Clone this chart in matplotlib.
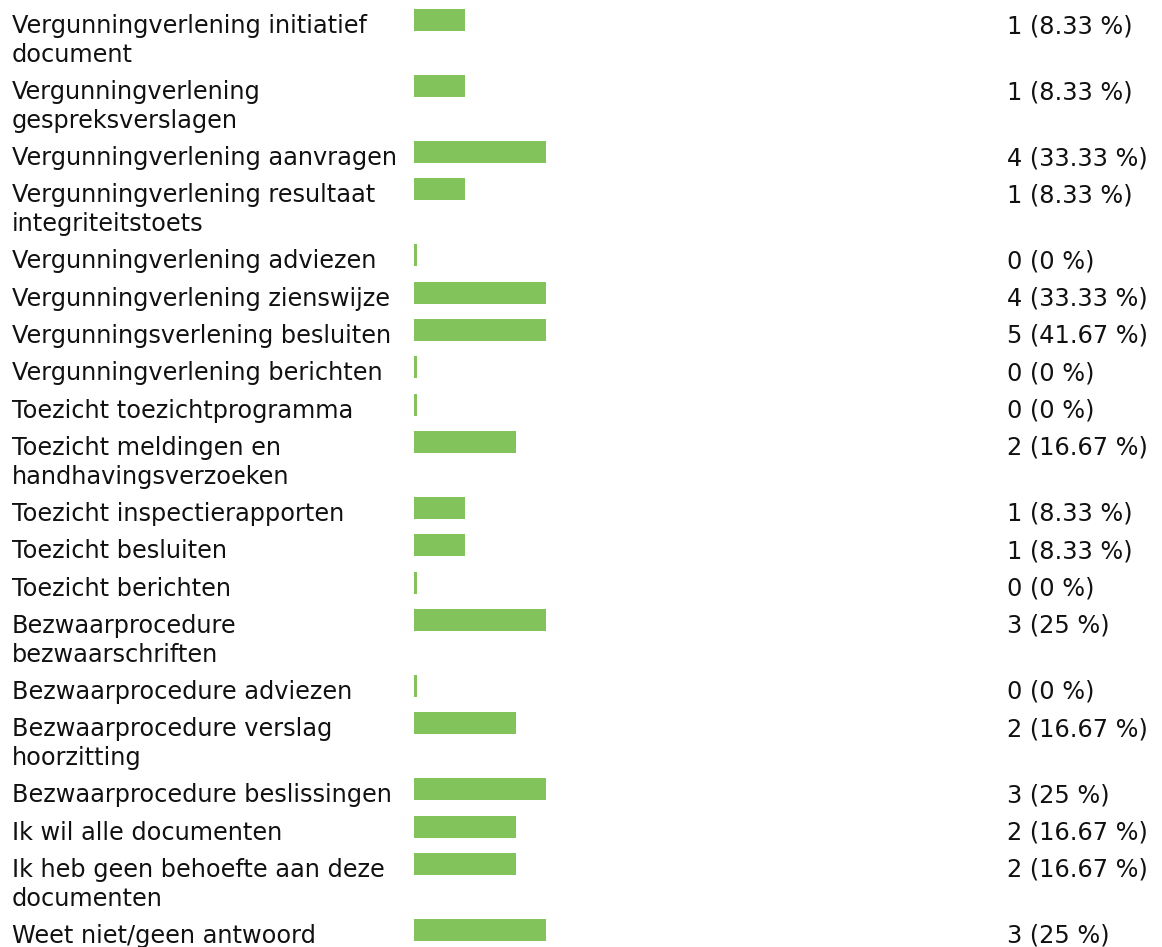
import matplotlib
matplotlib.use("Agg")
import matplotlib.pyplot as plt
from matplotlib import transforms

# ---- data ----
labels = [
    "Vergunningverlening initiatief\ndocument",
    "Vergunningverlening\ngespreksverslagen",
    "Vergunningverlening aanvragen",
    "Vergunningverlening resultaat\nintegriteitstoets",
    "Vergunningverlening adviezen",
    "Vergunningverlening zienswijze",
    "Vergunningsverlening besluiten",
    "Vergunningverlening berichten",
    "Toezicht toezichtprogramma",
    "Toezicht meldingen en\nhandhavingsverzoeken",
    "Toezicht inspectierapporten",
    "Toezicht besluiten",
    "Toezicht berichten",
    "Bezwaarprocedure\nbezwaarschriften",
    "Bezwaarprocedure adviezen",
    "Bezwaarprocedure verslag\nhoorzitting",
    "Bezwaarprocedure beslissingen",
    "Ik wil alle documenten",
    "Ik heb geen behoefte aan deze\ndocumenten",
    "Weet niet/geen antwoord",
]
counts = [1, 1, 4, 1, 0, 4, 5, 0, 0, 2, 1, 1, 0, 3, 0, 2, 3, 2, 2, 3]
percents = ["8.33", "8.33", "33.33", "8.33", "0", "33.33", "41.67", "0", "0",
            "16.67", "8.33", "8.33", "0", "25", "0", "16.67", "25", "16.67",
            "16.67", "25"]

# ---- layout (pixels) ----
W, H = 1162, 947
DPI = 100
FONT = 17.3
TXT = "#111111"
GREEN = "#82c35c"
BAR_X0, BAR_W = 414, 132
FIRST_TOP = 9
ROW1 = 37.33
LINE = 28.67
BAR_H = 22
BASE_OFF = 24
XMAX = 2.6
MIN_W = XMAX * 3 / BAR_W

fig = plt.figure(figsize=(W / DPI, H / DPI), dpi=DPI)
fig.patch.set_facecolor("white")
ax = fig.add_axes([BAR_X0 / W, 0, BAR_W / W, 1])
ax.set_xlim(0, XMAX)
ax.set_ylim(H, 0)
ax.axis("off")

# row tops from the number of label lines
tops = []
y = FIRST_TOP
for lab in labels:
    tops.append(y)
    y += ROW1 + LINE * (lab.count("\n"))

centers = [t + BAR_H / 2 for t in tops]
widths = [max(c, MIN_W) for c in counts]
ax.barh(centers, widths, height=BAR_H, left=0, color=GREEN, linewidth=0)

tr = transforms.blended_transform_factory(fig.transFigure, ax.transData)
for lab, t, c, p in zip(labels, tops, counts, percents):
    for i, line in enumerate(lab.split("\n")):
        ax.text(12 / W, t + BASE_OFF + LINE * i, line, transform=tr, fontsize=FONT,
                family="DejaVu Sans", color=TXT, va="baseline", ha="left",
                clip_on=False)
    ax.text(1007 / W, t + BASE_OFF, f"{c} ({p} %)", transform=tr, fontsize=FONT,
            family="DejaVu Sans", color=TXT, va="baseline", ha="left",
            clip_on=False)

fig.savefig("out.png", dpi=DPI, facecolor="white")
